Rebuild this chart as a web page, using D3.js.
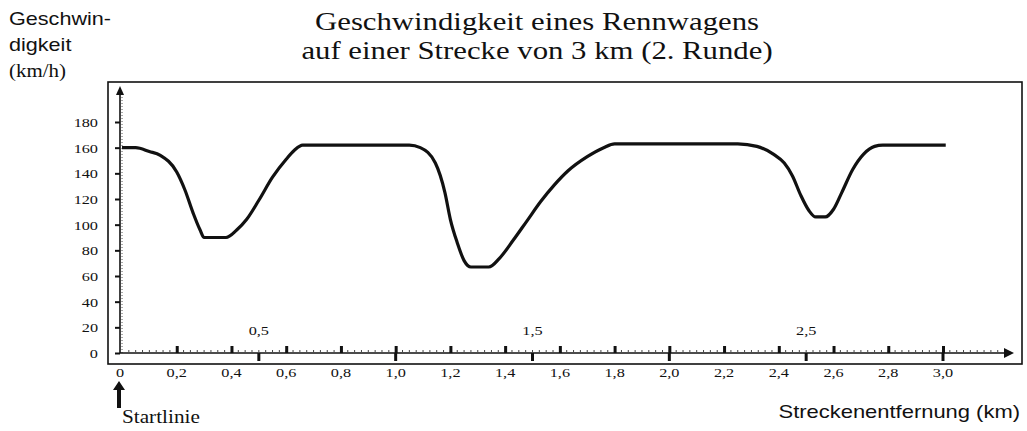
<!DOCTYPE html>
<html>
<head>
<meta charset="utf-8">
<script src="https://cdn.jsdelivr.net/npm/d3@7"></script>
<style>
  body { margin: 0; background: #fff; }
  .serif { font-family: "Liberation Serif", "Times New Roman", serif; fill: #111; }
  .sans { font-family: "Liberation Sans", Arial, sans-serif; fill: #111; }
</style>
</head>
<body>
<div id="chart"></div>
<script>
var distKm   = [0, 0.05, 0.10, 0.14, 0.20, 0.23, 0.26, 0.285, 0.30, 0.38, 0.42, 0.455, 0.50, 0.55, 0.60, 0.63, 0.66,
                1.05, 1.09, 1.145, 1.18, 1.20, 1.225, 1.25, 1.275, 1.34, 1.38, 1.43, 1.48, 1.53, 1.58, 1.63, 1.70, 1.76, 1.80,
                2.25, 2.32, 2.38, 2.42, 2.45, 2.48, 2.51, 2.535, 2.57, 2.60, 2.63, 2.67, 2.71, 2.75, 2.78, 3.01];
var speedKmh = [160, 160, 157, 154, 141, 127, 109, 96, 90, 90, 96, 104, 119, 137, 151, 158, 162,
                162, 160, 148, 125, 104, 86, 72, 67, 67, 74, 88, 103, 118, 131, 142, 153, 160, 163,
                163, 161, 155, 148, 138, 123, 111, 106, 106, 112, 125, 143, 155, 161, 162, 162];

var yTicks = [0, 20, 40, 60, 80, 100, 120, 140, 160, 180];
var xTicks = [0.2, 0.4, 0.6, 0.8, 1.0, 1.2, 1.4, 1.6, 1.8, 2.0, 2.2, 2.4, 2.6, 2.8, 3.0];
var xLabels = [0, 0.2, 0.4, 0.6, 0.8, 1.0, 1.2, 1.4, 1.6, 1.8, 2.0, 2.2, 2.4, 2.6, 2.8, 3.0];
var halfTicks = [0.5, 1.5, 2.5];
var fullKm = [1.0, 2.0, 3.0];

var titleLines = ["Geschwindigkeit eines Rennwagens", "auf einer Strecke von 3 km (2. Runde)"];
var yTitleLines = ["Geschwin-", "digkeit", "(km/h)"];

var width = 1027, height = 431;
var stretch = 1.2; // Schrift der Vorlage ist waagerecht gedehnt

var svg = d3.select("#chart").append("svg")
    .attr("width", width)
    .attr("height", height);

svg.append("rect").attr("width", width).attr("height", height).attr("fill", "#fff");

var x = d3.scaleLinear().domain([0, 3]).range([122, 943]);
var y = d3.scaleLinear().domain([0, 180]).range([353, 122]);
var xEnd = 1004;

function label(cls, px, py, txt, size, anchor, sx) {
    return svg.append("text")
        .attr("class", cls)
        .attr("transform", "translate(" + px + "," + py + ") scale(" + (sx || stretch) + ",1)")
        .attr("text-anchor", anchor || "start")
        .style("font-size", size + "px")
        .text(txt);
}

var comma = function(d) { return d === 0 ? "0" : d3.format(".1f")(d).replace(".", ","); };

// Rahmen
svg.append("rect")
    .attr("x", 108).attr("y", 82)
    .attr("width", 914).attr("height", 282)
    .attr("fill", "none").attr("stroke", "#111").attr("stroke-width", 1.6);

// Titel
titleLines.forEach(function(t, i) {
    label("serif", 537, 30 + i * 29, t, 25, "middle", 1.23);
});

// Achsentitel
label("sans", 9, 25, yTitleLines[0], 18, "start");
label("sans", 9, 51, yTitleLines[1], 18, "start");
label("serif", 9, 77, yTitleLines[2], 19, "start", 1.1);
label("sans", 1020, 418, "Streckenentfernung (km)", 18, "end", 1.22);

// y-Achse
var yAxis = svg.append("g")
    .attr("transform", "translate(" + x(0) + ",0)")
    .call(d3.axisLeft(y).tickValues(yTicks).tickSize(5).tickFormat(""));
yAxis.select(".domain").remove();
yAxis.selectAll(".tick line").attr("stroke", "#111").attr("stroke-width", 2).attr("transform", "translate(-2,0)");

svg.append("line")
    .attr("x1", x(0) - 2).attr("x2", x(0) - 2)
    .attr("y1", y(0)).attr("y2", 92)
    .attr("stroke", "#111").attr("stroke-width", 1.6);
svg.append("line")
    .attr("x1", x(0)).attr("x2", x(0))
    .attr("y1", y(0)).attr("y2", 96)
    .attr("stroke", "#555").attr("stroke-width", 1).attr("stroke-dasharray", "1,2");
svg.append("path")
    .attr("d", "M" + (x(0) - 2) + ",86 l-4,9 l8,0 z")
    .attr("fill", "#111");

yTicks.forEach(function(v) {
    label("serif", 98, y(v) + 5, String(v), 13, "end", 1.25);
});

// x-Achse
svg.append("line")
    .attr("x1", x(0) - 2).attr("x2", xEnd)
    .attr("y1", y(0)).attr("y2", y(0))
    .attr("stroke", "#111").attr("stroke-width", 1.6);
svg.append("path")
    .attr("d", "M" + (xEnd + 10) + "," + y(0) + " l-10,-5 l0,10 z")
    .attr("fill", "#111");

// kleine punktierte Teilstriche
var minor = d3.range(0.025, (xEnd - x(0)) / (x(1) - x(0)), 0.025);
svg.append("g").selectAll("line").data(minor).enter().append("line")
    .attr("x1", function(d) { return x(d); }).attr("x2", function(d) { return x(d); })
    .attr("y1", y(0) - 3).attr("y2", y(0) - 1)
    .attr("stroke", "#444").attr("stroke-width", 1);

var xAxis = svg.append("g")
    .attr("transform", "translate(0," + y(0) + ")")
    .call(d3.axisTop(x).tickValues(xTicks).tickSize(7).tickFormat(""));
xAxis.select(".domain").remove();
xAxis.selectAll(".tick line").attr("stroke", "#111").attr("stroke-width", 3);

svg.append("g").selectAll("line").data(halfTicks.concat(fullKm)).enter().append("line")
    .attr("x1", function(d) { return x(d); }).attr("x2", function(d) { return x(d); })
    .attr("y1", y(0)).attr("y2", y(0) + 8)
    .attr("stroke", "#111").attr("stroke-width", 3);

xLabels.forEach(function(v) {
    label("serif", v === 0 ? x(0) - 2 : x(v), 377, comma(v), 13, "middle", 1.25);
});
halfTicks.forEach(function(v) {
    label("serif", x(v), 335, comma(v), 13, "middle", 1.25);
});

// Startlinie
svg.append("path")
    .attr("d", "M" + (x(0) - 3) + ",381 l-6,9 l4,0 l0,18 l4,0 l0,-18 l4,0 z")
    .attr("fill", "#111");
label("serif", x(0), 423, "Startlinie", 18, "start", 1.18);

// Geschwindigkeitskurve
var pts = distKm.map(function(d, i) { return [d, speedKmh[i]]; });
var line = d3.line()
    .x(function(d) { return x(d[0]); })
    .y(function(d) { return y(d[1]); })
    .curve(d3.curveMonotoneX);

svg.append("path")
    .datum(pts)
    .attr("d", line)
    .attr("fill", "none")
    .attr("stroke", "#111")
    .attr("stroke-width", 3.2)
    .attr("stroke-linejoin", "round");
</script>
</body>
</html>
